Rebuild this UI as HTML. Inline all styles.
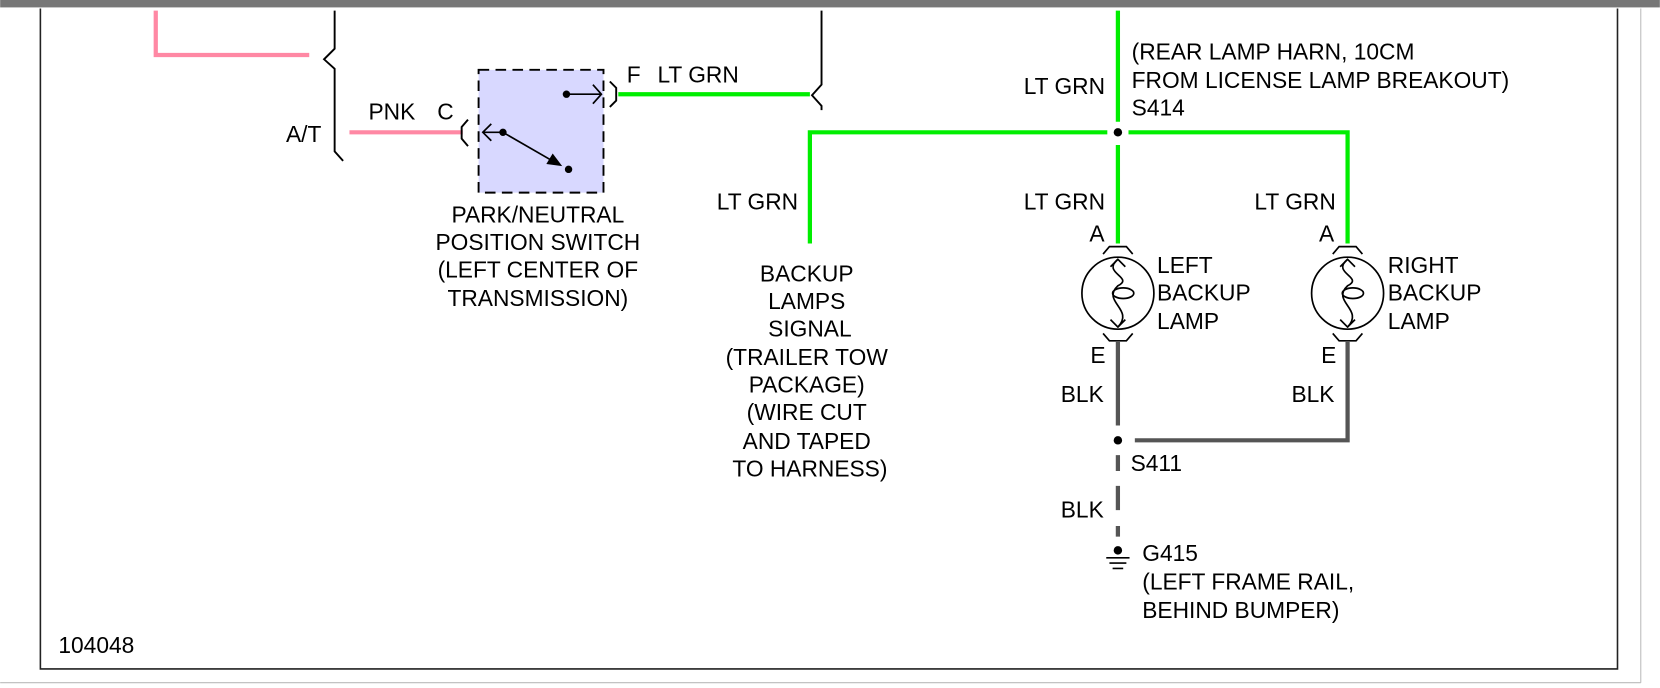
<!DOCTYPE html>
<html><head><meta charset="utf-8"><style>
html,body{margin:0;padding:0;background:#fff;}
svg{display:block;}
text{font-family:"Liberation Sans",Arial,sans-serif;font-size:21.5px;fill:#000;}
</style></head><body>
<svg width="1660" height="688" viewBox="0 0 1568 650" xmlns="http://www.w3.org/2000/svg">
<rect x="0" y="0" width="1568" height="7" fill="#777"/>
<path d="M38 8 V632 H1528 V8" fill="none" stroke="#222" stroke-width="1.5"/>
<path d="M0 645 H1550 M1550 8 V645" fill="none" stroke="#bbb" stroke-width="1"/>

<path d="M147 10 V52 H292" fill="none" stroke="#ff88a4" stroke-width="4"/>
<path d="M330 125 H437" fill="none" stroke="#ff88a4" stroke-width="4"/>
<path d="M316 10 V46 L306 56 L316 65 V143 L324 152" fill="none" stroke="#000" stroke-width="1.8"/>
<path d="M442 113 L436 120 V131 L442 138" fill="none" stroke="#000" stroke-width="1.8"/>
<rect x="452" y="66" width="118" height="116" fill="#d8d8ff" stroke="#000" stroke-width="1.8" stroke-dasharray="10,6"/>
<circle cx="475" cy="125" r="3.5"/>
<path d="M475 125 H456 M464 117 L456 125 L464 133" fill="none" stroke="#000" stroke-width="1.6"/>
<path d="M475 125 L527 155" stroke="#000" stroke-width="1.6"/>
<path d="M531 157 L516 155 L522 145 Z" fill="#000"/>
<circle cx="537" cy="160" r="3.5"/>
<circle cx="535" cy="89" r="3.5"/>
<path d="M535 89 H568 M560 80 L568 89 L560 98" fill="none" stroke="#000" stroke-width="1.6"/>
<path d="M576 77 L582 83 V95 L576 101" fill="none" stroke="#000" stroke-width="1.8"/>
<g stroke="#00ee00" stroke-width="4" fill="none">
<path d="M584 89 H765"/>
<path d="M1056 10 V115"/>
<path d="M1056 137 V230"/>
<path d="M765 230 V125 H1046"/>
<path d="M1066 125 H1273 V230"/>
</g>
<path d="M776 10 V80 L767 90 L776 100 V104" fill="none" stroke="#000" stroke-width="1.8"/>
<circle cx="1056" cy="125" r="4"/>
<g fill="none" stroke="#000" stroke-width="1.6">
<g>
<path d="M1042 240 L1048 233 H1064 L1070 240"/>
<path d="M1042 315 L1048 322 H1064 L1070 315"/>
<circle cx="1056" cy="277" r="34"/>
<path d="M1056 245 C1040 258,1072 262,1056 270 C1040 285,1072 292,1056 309"/>
<ellipse cx="1061" cy="277" rx="10" ry="5"/>
<path d="M1049 252 L1056 245 L1063 252 M1049 302 L1056 309 L1063 302"/>
</g>
<g transform="translate(217 0)">
<path d="M1042 240 L1048 233 H1064 L1070 240"/>
<path d="M1042 315 L1048 322 H1064 L1070 315"/>
<circle cx="1056" cy="277" r="34"/>
<path d="M1056 245 C1040 258,1072 262,1056 270 C1040 285,1072 292,1056 309"/>
<ellipse cx="1061" cy="277" rx="10" ry="5"/>
<path d="M1049 252 L1056 245 L1063 252 M1049 302 L1056 309 L1063 302"/>
</g>
</g>
<g stroke="#555" stroke-width="4" fill="none">
<path d="M1056 322 V402"/>
<path d="M1072 416 H1273 V322"/>
<path d="M1056 430 V445 M1056 459 V482 M1056 497 V507"/>
</g>
<circle cx="1056" cy="416" r="4"/>
<circle cx="1056" cy="520" r="4"/>
<path d="M1045 527 H1067 M1048 532 H1064 M1051 537 H1061" stroke="#000" stroke-width="1.5"/>

<text x="270" y="134">A/T</text>
<text x="348" y="113">PNK</text>
<text x="413" y="113">C</text>
<text x="592" y="78">F</text>
<text x="621" y="78">LT GRN</text>
<g text-anchor="middle">
<text x="508" y="210">PARK/NEUTRAL</text>
<text x="508" y="236">POSITION SWITCH</text>
<text x="508" y="262">(LEFT CENTER OF</text>
<text x="508" y="289">TRANSMISSION)</text>
<text x="762" y="266">BACKUP</text>
<text x="762" y="292">LAMPS</text>
<text x="765" y="318">SIGNAL</text>
<text x="762" y="345">(TRAILER TOW</text>
<text x="762" y="371">PACKAGE)</text>
<text x="762" y="397">(WIRE CUT</text>
<text x="762" y="424">AND TAPED</text>
<text x="765" y="450">TO HARNESS)</text>
</g>
<text x="967" y="89">LT GRN</text>
<text x="1069" y="56">(REAR LAMP HARN, 10CM</text>
<text x="1069" y="83">FROM LICENSE LAMP BREAKOUT)</text>
<text x="1069" y="109">S414</text>
<text x="677" y="198">LT GRN</text>
<text x="967" y="198">LT GRN</text>
<text x="1185" y="198">LT GRN</text>
<text x="1029" y="228">A</text>
<text x="1246" y="228">A</text>
<text x="1093" y="258">LEFT</text>
<text x="1093" y="284">BACKUP</text>
<text x="1093" y="311">LAMP</text>
<text x="1311" y="258">RIGHT</text>
<text x="1311" y="284">BACKUP</text>
<text x="1311" y="311">LAMP</text>
<text x="1030" y="343">E</text>
<text x="1248" y="343">E</text>
<text x="1002" y="380">BLK</text>
<text x="1220" y="380">BLK</text>
<text x="1068" y="445">S411</text>
<text x="1002" y="489">BLK</text>
<text x="1079" y="530">G415</text>
<text x="1079" y="557">(LEFT FRAME RAIL,</text>
<text x="1079" y="584">BEHIND BUMPER)</text>
<text x="55" y="617">104048</text>
</svg>
</body></html>
